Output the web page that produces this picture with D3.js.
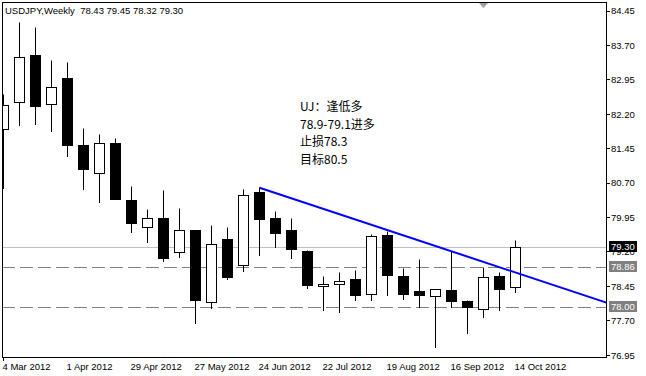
<!DOCTYPE html>
<html>
<head>
<meta charset="utf-8">
<script src="https://cdn.jsdelivr.net/npm/d3@7"></script>
<style>
  html, body { margin: 0; padding: 0; background: #fff; }
  svg { display: block; }
  text { font-family: "Liberation Sans", Arial, sans-serif; font-size: 9.5px; fill: #000; }
  text.note { font-family: "Noto Sans CJK SC", sans-serif; font-size: 12px; }
</style>
</head>
<body>
<div id="chart"></div>
<script>
// USDJPY weekly candles, Mar–Oct 2012
const weeks = [
  "2012-03-04","2012-03-11","2012-03-18","2012-03-25","2012-04-01","2012-04-08","2012-04-15",
  "2012-04-22","2012-04-29","2012-05-06","2012-05-13","2012-05-20","2012-05-27","2012-06-03",
  "2012-06-10","2012-06-17","2012-06-24","2012-07-01","2012-07-08","2012-07-15","2012-07-22",
  "2012-07-29","2012-08-05","2012-08-12","2012-08-19","2012-08-26","2012-09-02","2012-09-09",
  "2012-09-16","2012-09-23","2012-09-30","2012-10-07","2012-10-14"
];
const open  = [81.86,82.46,83.49,82.42,82.97,81.53,80.91,81.57,80.33,79.73,79.94,79.18,79.66,78.10,79.48,78.90,80.49,
               79.92,79.66,79.22,78.44,78.50,78.61,78.28,79.55,78.66,78.33,78.23,78.37,78.13,77.95,78.66,78.43];
const high  = [82.64,84.19,84.10,83.38,83.32,81.88,81.77,81.68,80.62,80.12,80.55,80.14,79.67,79.78,79.74,80.57,80.60,
               80.09,79.94,79.23,78.67,78.76,78.79,79.57,79.64,78.83,79.03,78.39,79.21,78.15,78.86,78.76,79.45];
const low   = [80.59,81.95,81.97,81.82,81.28,80.56,80.27,80.34,79.62,79.40,78.99,79.09,77.64,77.96,78.60,78.77,79.12,
               79.29,79.05,78.40,77.92,77.88,78.14,78.14,78.25,78.16,78.00,77.11,78.00,77.42,77.77,77.92,78.32];
const close = [82.40,83.44,82.37,82.79,81.52,80.99,81.57,80.35,79.82,79.92,79.05,79.66,78.14,79.37,78.64,80.42,79.90,
               79.60,79.25,78.46,78.50,78.56,78.25,79.54,78.68,78.27,78.25,78.39,78.12,78.00,78.65,78.38,79.30];

const priceTicks = ["84.45","83.70","82.95","82.20","81.45","80.70","79.95","79.20","78.45","77.70","76.95"];
const dateTicks = ["2012-03-04","2012-04-01","2012-04-29","2012-05-27","2012-06-24",
                   "2012-07-22","2012-08-19","2012-09-16","2012-10-14"];
const bidPrice = 79.30;
const levelPrices = [78.86, 78.00];
const trendDates = ["2012-06-24", "2012-11-25"];
const trendPrices = [80.60, 78.06];
const title = "USDJPY,Weekly  78.43 79.45 78.32 79.30";
const noteLines = ["UJ：逢低多", "78.9-79.1进多", "止损78.3", "目标80.5"];

const W = 646, H = 376;
const plot = { left: 2, top: 2, right: 606, bottom: 357 };
const parse = d3.utcParse("%Y-%m-%d");
const fmtDate = d3.utcFormat("%-d %b %Y");

const candles = weeks.map((w, i) => ({
  date: parse(w), o: open[i], h: high[i], l: low[i], c: close[i]
}));

const x = d3.scaleUtc()
  .domain([parse(weeks[0]), parse(weeks[weeks.length - 1])])
  .range([3.5, 515.5]);
const y = d3.scaleLinear().domain([76.95, 84.45]).range([355.25, 11]);
const py = v => Math.floor(y(v)) + 0.5;   // crisp 1px rows

const svg = d3.select("#chart").append("svg")
  .attr("width", W).attr("height", H)
  .attr("viewBox", `0 0 ${W} ${H}`);

svg.append("clipPath").attr("id", "plotclip").append("rect")
  .attr("x", plot.left + 1).attr("y", plot.top + 1)
  .attr("width", plot.right - plot.left - 1).attr("height", plot.bottom - plot.top - 1);

const g = svg.append("g").attr("clip-path", "url(#plotclip)");

// horizontal levels (behind the candles)
g.append("line")
  .attr("x1", plot.left).attr("x2", plot.right)
  .attr("y1", py(bidPrice)).attr("y2", py(bidPrice))
  .attr("stroke", "#c0c0c0");
g.selectAll("line.level").data(levelPrices).join("line").attr("class", "level")
  .attr("x1", plot.left).attr("x2", plot.right)
  .attr("y1", d => py(d)).attr("y2", d => py(d))
  .attr("stroke", "#808080").attr("stroke-dasharray", "13,5");

// candles
const cg = g.selectAll("g.candle").data(candles).join("g").attr("class", "candle");
cg.append("line")
  .attr("x1", d => x(d.date)).attr("x2", d => x(d.date))
  .attr("y1", d => py(d.h)).attr("y2", d => py(d.l) + 0.5)
  .attr("stroke", "#000");
cg.append("rect")
  .attr("x", d => x(d.date) - 5).attr("width", 10)
  .attr("y", d => py(Math.max(d.o, d.c)))
  .attr("height", d => Math.max(1, py(Math.min(d.o, d.c)) - py(Math.max(d.o, d.c))))
  .attr("fill", d => d.c >= d.o ? "#fff" : "#000")
  .attr("stroke", "#000");

// trend line (drawn over the candles)
g.append("line")
  .attr("x1", x(parse(trendDates[0]))).attr("y1", y(trendPrices[0]))
  .attr("x2", x(parse(trendDates[1]))).attr("y2", y(trendPrices[1]))
  .attr("stroke", "#0000ff").attr("stroke-width", 2);

// plot frame
svg.append("rect")
  .attr("x", plot.left + 0.5).attr("y", plot.top + 0.5)
  .attr("width", plot.right - plot.left).attr("height", plot.bottom - plot.top)
  .attr("fill", "none").attr("stroke", "#000");

// chart-shift marker
svg.append("path")
  .attr("d", "M479,3 L488,3 L483.5,8 Z")
  .attr("fill", "#a0a0a0");

// price axis
const ya = svg.append("g");
ya.selectAll("line").data(priceTicks).join("line")
  .attr("x1", plot.right).attr("x2", plot.right + 4)
  .attr("y1", d => py(+d)).attr("y2", d => py(+d))
  .attr("stroke", "#000");
ya.selectAll("text").data(priceTicks).join("text")
  .attr("x", plot.right + 5).attr("y", d => y(+d))
  .attr("dy", "0.35em")
  .text(d => d);

// price tags for the bid and the two levels
const tags = [{ p: bidPrice, fill: "#000" }].concat(levelPrices.map(p => ({ p, fill: "#808080" })));
const tg = svg.selectAll("g.tag").data(tags).join("g").attr("class", "tag");
tg.append("rect")
  .attr("x", plot.right + 3).attr("y", d => Math.floor(y(d.p)) - 6)
  .attr("width", 28).attr("height", 11)
  .attr("fill", d => d.fill);
tg.append("text")
  .attr("x", plot.right + 5).attr("y", d => Math.floor(y(d.p)) - 0.5)
  .attr("dy", "0.35em")
  .style("fill", "#fff")
  .text(d => d.p.toFixed(2));

// date axis
svg.append("line")
  .attr("x1", x(parse(dateTicks[0]))).attr("x2", x(parse(dateTicks[0])))
  .attr("y1", plot.bottom).attr("y2", plot.bottom + 4)
  .attr("stroke", "#000");
svg.selectAll("text.date").data(dateTicks).join("text").attr("class", "date")
  .attr("x", d => x(parse(d)) - 1).attr("y", 370)
  .text(d => fmtDate(parse(d)));

// title
svg.append("text")
  .attr("x", 5).attr("y", 14)
  .attr("xml:space", "preserve").style("white-space", "pre")
  .text(title);

// annotation
svg.selectAll("text.note").data(noteLines).join("text").attr("class", "note")
  .attr("x", 300).attr("y", (d, i) => 107 + i * 17.5)
  .attr("dy", "0.35em")
  .text(d => d);
</script>
</body>
</html>
